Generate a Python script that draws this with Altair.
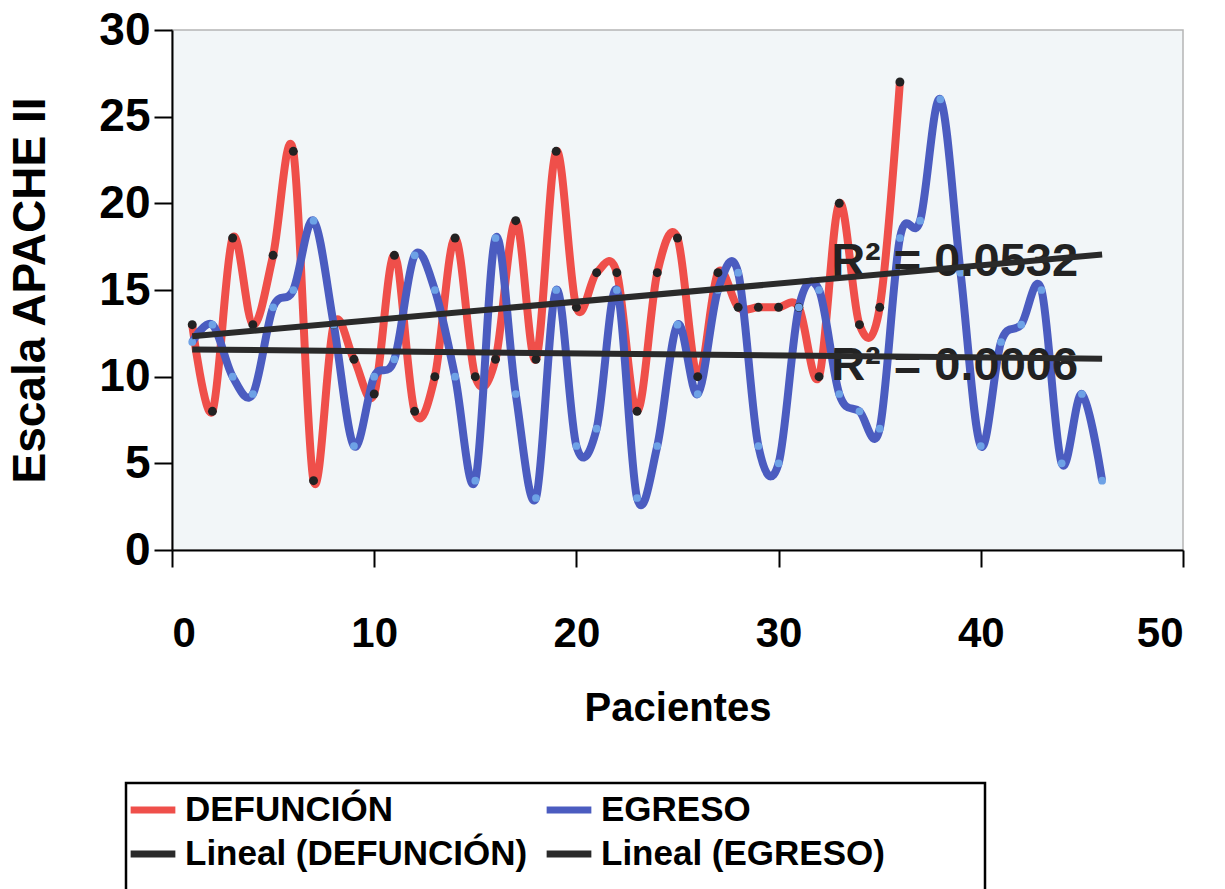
import altair as alt
import pandas as pd

# ---- data ----
pacientes_def = list(range(1, 37))
defuncion = [13, 8, 18, 13, 17, 23, 4, 13, 11, 9, 17, 8, 10, 18, 10, 11, 19, 11,
             23, 14, 16, 16, 8, 16, 18, 10, 16, 14, 14, 14, 14, 10, 20, 13, 14, 27]
pacientes_egr = list(range(1, 47))
egreso = [12, 13, 10, 9, 14, 15, 19, 13, 6, 10, 11, 17, 15, 10, 4, 18, 9, 3, 15, 6,
          7, 15, 3, 6, 13, 9, 15, 16, 6, 5, 14, 15, 9, 8, 7, 18, 19, 26, 16, 6,
          12, 13, 15, 5, 9, 4]
series = ["DEFUNCIÓN", "EGRESO"]
legend_labels = ["DEFUNCIÓN", "Lineal (DEFUNCIÓN)", "EGRESO", "Lineal (EGRESO)"]
legend_colors = ["#EF4F4A", "#2A2A2A", "#4B5CC0", "#2A2A2A"]
r2_labels = ["R² = 0.0532", "R² = 0.0006"]
r2_x = [32.6, 32.6]
r2_y = [16.6, 10.6]
x_ticks = [0, 10, 20, 30, 40, 50]
y_ticks = [0, 5, 10, 15, 20, 25, 30]

df = pd.concat([
    pd.DataFrame({"x": pacientes_def, "y": defuncion, "serie": series[0]}),
    pd.DataFrame({"x": pacientes_egr, "y": egreso, "serie": series[1]}),
])
df_r2 = pd.DataFrame({"x": r2_x, "y": r2_y, "label": r2_labels})

FONT = "Liberation Sans"

xscale = alt.Scale(domain=[0, 50], nice=False, zero=False)
yscale = alt.Scale(domain=[0, 30], nice=False)
color_scale = alt.Scale(domain=legend_labels, range=legend_colors)

xenc = alt.X("x:Q", scale=xscale, title="Pacientes",
             axis=alt.Axis(values=x_ticks, grid=False, labelFontSize=42, labelFont=FONT,
                           labelFontWeight="bold", labelPadding=46, tickSize=17,
                           titleFontSize=40, titleFont=FONT, titleFontWeight="bold",
                           titlePadding=34, domainColor="black", tickColor="black",
                           domainWidth=2, tickWidth=2, labelColor="black", titleColor="black"))
yenc = alt.Y("y:Q", scale=yscale, title="Escala APACHE II",
             axis=alt.Axis(values=y_ticks, grid=False, labelFontSize=46, labelFont=FONT,
                           labelFontWeight="bold", labelPadding=4, tickSize=18,
                           titleFontSize=46, titleFont=FONT, titleFontWeight="bold",
                           titlePadding=44, domainColor="black", tickColor="black",
                           domainWidth=2, tickWidth=2, labelColor="black", titleColor="black"))

legend = alt.Legend(title=None, orient="none", legendX=-48, legendY=751, columns=2,
                    symbolType="stroke", symbolStrokeWidth=7, symbolSize=2000,
                    labelFont=FONT, labelFontWeight="bold", labelFontSize=35,
                    labelColor="black", labelOffset=6, columnPadding=4, rowPadding=0,
                    padding=3, labelLimit=600)

base = alt.Chart(df)

lines = base.mark_line(interpolate="cardinal", tension=0, strokeWidth=8).encode(
    x=xenc, y=yenc,
    color=alt.Color("serie:N", scale=color_scale, legend=legend),
    detail="serie:N",
)

pts_def = base.transform_filter(alt.datum.serie == series[0]).mark_point(
    filled=True, size=80, opacity=1, color="#222222").encode(x="x:Q", y="y:Q")
pts_egr = base.transform_filter(alt.datum.serie == series[1]).mark_point(
    filled=True, size=60, opacity=1, color="#6EA2E6").encode(x="x:Q", y="y:Q")

r2_text = alt.Chart(df_r2).mark_text(
    align="left", baseline="middle", font=FONT, fontWeight="bold", fontSize=47,
    color="#222222").encode(x="x:Q", y="y:Q", text="label:N")

trend = base.transform_regression("x", "y", groupby=["serie"], extent=[1, 46]).transform_calculate(
    lin="'Lineal (' + datum.serie + ')'"
).mark_line(strokeWidth=6).encode(
    x="x:Q", y="y:Q",
    color=alt.Color("lin:N", scale=color_scale, legend=legend),
    detail="lin:N",
)

legend_box = alt.Chart(pd.DataFrame({"a": [0]})).mark_rect(
    fill=None, stroke="black", strokeWidth=2.5).encode(
    x=alt.value(-46), x2=alt.value(813), y=alt.value(753), y2=alt.value(900))

chart = alt.layer(lines, pts_def, pts_egr, r2_text, trend, legend_box).properties(
    width=1011, height=520,
    autosize=alt.AutoSizeParams(type="none"),
    padding={"left": 172, "top": 30, "right": 42, "bottom": 339},
    background="white",
).configure_view(fill="#F2F6F8", stroke="#B5B5B5", strokeWidth=1.5)

chart.save("out.html", embed_options={"renderer": "svg", "actions": False})
